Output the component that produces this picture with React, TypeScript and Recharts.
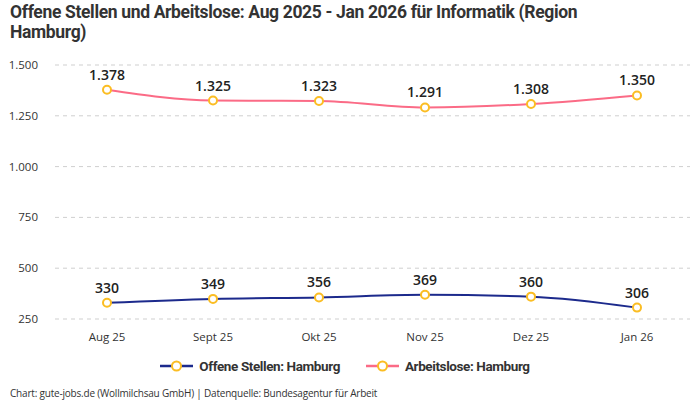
import React from "react"
import {
  LineChart,
  Line,
  XAxis,
  YAxis,
  CartesianGrid,
  LabelList,
  Legend,
} from "recharts"

const months = ["Aug 25", "Sept 25", "Okt 25", "Nov 25", "Dez 25", "Jan 26"]
const offeneStellen = [330, 349, 356, 369, 360, 306]
const arbeitslose = [1378, 1325, 1323, 1291, 1308, 1350]
const yTicks = [250, 500, 750, 1000, 1250, 1500]

const data = months.map((m, i) => ({
  month: m,
  stellen: offeneStellen[i],
  arbeitslose: arbeitslose[i],
}))

const NAVY = "#1c2a8c"
const PINK = "#fb6b86"
const DOT = "#fbbd23"
const CONDENSED = '"Roboto", sans-serif'
const SANS = '"Open Sans", "Noto Sans", sans-serif'

// 1500 -> "1.500"
const fmt = (v: number) => String(v).replace(/\B(?=(\d{3})+(?!\d))/g, ".")

const series = [
  { key: "stellen", name: "Offene Stellen: Hamburg", color: NAVY },
  { key: "arbeitslose", name: "Arbeitslose: Hamburg", color: PINK },
]

function ChartLegend() {
  return (
    <div style={{ display: "flex", justifyContent: "center", gap: 26 }}>
      {series.map((s) => (
        <div key={s.key} style={{ display: "flex", alignItems: "center", gap: 6 }}>
          <svg width={33} height={12}>
            <line x1={0} y1={6} x2={33} y2={6} stroke={s.color} strokeWidth={2.5} />
            <circle cx={16.5} cy={6} r={4.5} fill="#fff" stroke={DOT} strokeWidth={2} />
          </svg>
          <span
            style={{
              fontFamily: CONDENSED,
              fontWeight: 700,
              fontSize: 13.5,
              letterSpacing: -0.4,
              color: "#333",
            }}
          >
            {s.name}
          </span>
        </div>
      ))}
    </div>
  )
}

export default function App() {
  return (
    <div style={{ position: "absolute", left: 0, top: 0, width: 700, height: 400, background: "#fff" }}>
      <div
        style={{
          position: "absolute",
          left: 10,
          top: 2,
          width: 590,
          fontFamily: CONDENSED,
          fontWeight: 700,
          fontSize: 17.5,
          letterSpacing: -0.35,
          lineHeight: "20px",
          color: "#333",
        }}
      >
        Offene Stellen und Arbeitslose: Aug 2025 - Jan 2026 für Informatik (Region Hamburg)
      </div>
      <LineChart
        width={700}
        height={400}
        data={data}
        margin={{ top: 65, right: 10, left: 0, bottom: 20 }}
      >
        <CartesianGrid vertical={false} stroke="#cfcfcf" strokeDasharray="4 4" />
        <XAxis
          dataKey="month"
          axisLine={false}
          tickLine={false}
          tickSize={0}
          tickMargin={14}
          height={39}
          padding={{ left: 52, right: 53 }}
          tick={{ fontSize: 11.5, fill: "#333", fontFamily: SANS }}
        />
        <YAxis
          domain={[250, 1500]}
          ticks={yTicks}
          axisLine={false}
          tickLine={false}
          tickSize={0}
          tickMargin={17}
          width={55}
          tickFormatter={fmt}
          tick={{ fontSize: 11.5, fill: "#333", fontFamily: SANS }}
        />
        <Legend verticalAlign="bottom" height={22} content={() => <ChartLegend />} />
        {series.map((s) => (
          <Line
            key={s.key}
            dataKey={s.key}
            name={s.name}
            type="monotone"
            stroke={s.color}
            strokeWidth={2}
            dot={{ r: 4, fill: "#fff", stroke: DOT, strokeWidth: 2 }}
            activeDot={false}
            isAnimationActive={false}
          >
            <LabelList
              dataKey={s.key}
              position="top"
              offset={10}
              formatter={(v: number) => fmt(v)}
              style={{ fontSize: 14, fontWeight: 600, fill: "#222", fontFamily: SANS }}
            />
          </Line>
        ))}
      </LineChart>
      <div
        style={{
          position: "absolute",
          left: 10,
          top: 386,
          fontFamily: SANS,
          fontSize: 10,
          letterSpacing: -0.2,
          color: "#333",
        }}
      >
        Chart: gute-jobs.de (Wollmilchsau GmbH) | Datenquelle: Bundesagentur für Arbeit
      </div>
    </div>
  )
}
